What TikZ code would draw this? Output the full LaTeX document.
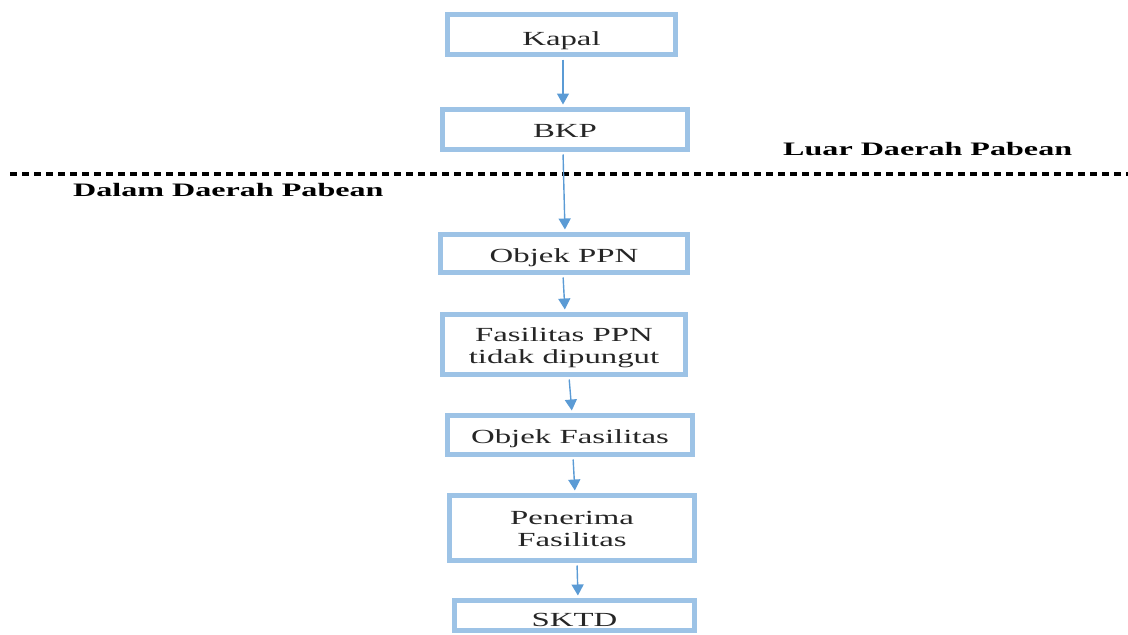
\documentclass[tikz,border=0pt]{standalone}
\usepackage{fontspec}
\setmainfont{Liberation Serif}
\newfontfamily\boxfont{Liberation Serif}[FakeStretch=1.64]
\newfontfamily\labfont{Liberation Serif}[FakeStretch=1.69]
\usetikzlibrary{arrows.meta,calc}
\definecolor{boxblue}{HTML}{9DC3E6}
\definecolor{arrblue}{HTML}{5B9BD5}
% #1 = downward shift of the text, box size unchanged
\newcommand{\boxtext}[2][4pt]{\raisebox{-#1}[\height][\depth]{\begin{tabular}{@{}c@{}}#2\end{tabular}}}
\begin{document}
\begin{tikzpicture}[x=1pt,y=-1pt,
 flowbox/.style={draw=boxblue, line width=5pt, fill=white, inner sep=0pt, align=center,
   font=\boxfont\fontsize{20}{22}\selectfont, text=black!85},
 flow/.style={draw=arrblue, line width=1.4pt, -{Triangle[width=12pt,length=11pt]},
   shorten >=2.5pt, shorten <=2.5pt},
 zone/.style={font=\labfont\bfseries\fontsize{19}{21}\selectfont, anchor=base west, inner sep=0pt}]
\useasboundingbox (0,0) rectangle (1128,635);

\node[flowbox, minimum width=228pt, minimum height=40pt] (kapal) at (561.5,34.5) {\boxtext[7pt]{Kapal}};
\node[flowbox, minimum width=245pt, minimum height=40pt] (bkp) at (565,129.5) {\boxtext[4pt]{BKP}};
\node[flowbox, minimum width=247pt, minimum height=38pt] (objppn) at (564,253.5) {\boxtext[5pt]{Objek PPN}};
\node[flowbox, minimum width=243pt, minimum height=60pt] (fas) at (564,344.5) {\boxtext[4pt]{Fasilitas PPN\\tidak dipungut}};
\node[flowbox, minimum width=245pt, minimum height=39pt] (objfas) at (570,435) {\boxtext[4pt]{Objek Fasilitas}};
\node[flowbox, minimum width=245pt, minimum height=65pt] (pen) at (572,528) {\boxtext[3pt]{Penerima\\Fasilitas}};
\node[flowbox, minimum width=240pt, minimum height=30pt] (sktd) at (574.5,615.5) {\boxtext[7pt]{SKTD}};

\draw[line width=4pt, dash pattern=on 7pt off 5pt] (10,174) -- (1128,174);

\node[zone] (luar) at (783,155) {Luar Daerah Pabean};
\node[zone] (dalam) at (73,196) {Dalam Daerah Pabean};

\draw[flow] ($(kapal.south)+(1.5,0)$) -- ($(bkp.north)+(-2,0)$);
\draw[flow] ($(bkp.south)+(-2,0)$) -- ($(objppn.north)+(1,0)$);
\draw[flow] ($(objppn.south)+(-1,0)$) -- ($(fas.north)+(1,0)$);
\draw[flow] ($(fas.south)+(5,0)$) -- ($(objfas.north)+(2,0)$);
\draw[flow] ($(objfas.south)+(3,0)$) -- ($(pen.north)+(3,0)$);
\draw[flow] ($(pen.south)+(5,0)$) -- ($(sktd.north)+(3.5,0)$);
\end{tikzpicture}
\end{document}
